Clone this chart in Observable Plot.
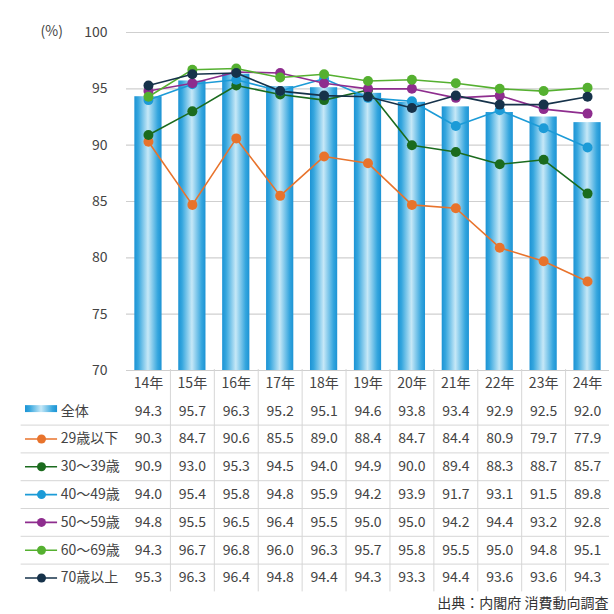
<!DOCTYPE html>
<html><head><meta charset="utf-8">
<script src="https://cdn.jsdelivr.net/npm/d3@7"></script>
<script src="https://cdn.jsdelivr.net/npm/@observablehq/plot@0.6"></script>
<style>body{margin:0;background:#fff} #c svg{display:block;overflow:visible}</style>
</head><body><div id="c"></div>
<script>
const years = ["14年","15年","16年","17年","18年","19年","20年","21年","22年","23年","24年"];
const totalName = "全体";
const total = [94.3,95.7,96.3,95.2,95.1,94.6,93.8,93.4,92.9,92.5,92.0];
const age29 = [90.3,84.7,90.6,85.5,89.0,88.4,84.7,84.4,80.9,79.7,77.9];
const age30 = [90.9,93.0,95.3,94.5,94.0,94.9,90.0,89.4,88.3,88.7,85.7];
const age40 = [94.0,95.4,95.8,94.8,95.9,94.2,93.9,91.7,93.1,91.5,89.8];
const age50 = [94.8,95.5,96.5,96.4,95.5,95.0,95.0,94.2,94.4,93.2,92.8];
const age60 = [94.3,96.7,96.8,96.0,96.3,95.7,95.8,95.5,95.0,94.8,95.1];
const age70 = [95.3,96.3,96.4,94.8,94.4,94.3,93.3,94.4,93.6,93.6,94.3];
const seriesNames = ["29歳以下","30～39歳","40～49歳","50～59歳","60～69歳","70歳以上"];
const seriesValues = [age29, age30, age40, age50, age60, age70];
const seriesColors = ["#e8732c","#1b6b1e","#1c9bd7","#8e2d8e","#55b030","#16324a"];
const yTicks = [70,75,80,85,90,95,100];
const unitLabel = "(%)";
const sourceText = "出典：内閣府 消費動向調査";

const font = "'Noto Sans CJK JP', 'Noto Sans', sans-serif";
const lineData = seriesNames.flatMap((name, s) => years.map((yr, i) => ({name, year: yr, value: seriesValues[s][i]})));
const barData = years.map((yr, i) => ({year: yr, value: total[i]}));

function addGradient(svg) {
  const defs = d3.select(svg).insert("defs", ":first-child");
  const g = defs.append("linearGradient").attr("id", "barGrad")
    .attr("x1", "0").attr("x2", "1").attr("y1", "0").attr("y2", "0");
  [[0, "#1c93d4"], [0.14, "#35a6de"], [0.5, "#c6e8f7"], [0.86, "#35a6de"], [1, "#1c93d4"]]
    .forEach(([o, c]) => g.append("stop").attr("offset", o).attr("stop-color", c));
}

const style = {fontFamily: font, fontSize: "14px", color: "#444", background: "transparent", overflow: "visible"};

const chart = Plot.plot({
  width: 614, height: 372, marginTop: 32, marginBottom: 2, marginLeft: 126, marginRight: 5,
  style,
  x: {type: "band", domain: years, paddingInner: 0.38, paddingOuter: 0.19, round: false, axis: null},
  y: {domain: [70, 100], axis: null},
  color: {domain: seriesNames, range: seriesColors},
  marks: [
    Plot.gridY(yTicks, {stroke: "#cfcfcf", strokeOpacity: 1, strokeWidth: 1.2}),
    Plot.axisY(yTicks, {tickSize: 0, tickPadding: 19, fontSize: 14, fill: "#444", label: null}),
    Plot.text([unitLabel], {frameAnchor: "top-left", dx: -86, dy: -6, fontSize: 14, fill: "#444"}),
    Plot.barY(barData, {x: "year", y1: 70, y2: "value", fill: "url(#barGrad)"}),
    Plot.ruleY([70], {stroke: "#cfcfcf", strokeWidth: 1.2}),
    Plot.line(lineData, {x: "year", y: "value", z: "name", stroke: "name", strokeWidth: 1.6}),
    Plot.dot(lineData, {x: "year", y: "value", fill: "name", r: 5})
  ]
});
addGradient(chart);

const rowValues = [total, ...seriesValues];
const headerCells = years.map((yr, i) => ({col: i + 0.5, row: 0.5, text: yr}));
const valueCells = rowValues.flatMap((vals, r) => vals.map((v, i) => ({col: i + 0.5, row: r + 1.5, text: v.toFixed(1)})));

const table = Plot.plot({
  width: 614, height: 242, marginTop: 0, marginBottom: 7, marginLeft: 126, marginRight: 6,
  style,
  x: {type: "linear", domain: [0, 11], range: [126, 609], axis: null},
  y: {type: "linear", domain: [0, 8], range: [-3, 219.4], axis: null},
  color: {domain: seriesNames, range: seriesColors},
  marks: [
    Plot.ruleX(d3.range(1, 11), {y1: 0, y2: 8, stroke: "#d6d6d6"}),
    Plot.ruleY(d3.range(2, 8), {x1: -2.4, x2: 11, stroke: "#d6d6d6"}),
    Plot.text([...headerCells, ...valueCells], {x: "col", y: "row", text: "text", fontSize: 14, fill: "#444"}),
    Plot.text([totalName, ...seriesNames], {x: -1.5, y: (d, i) => i + 1.5, text: d => d, textAnchor: "start", fontSize: 14, fill: "#444"}),
    Plot.rect([totalName], {x1: -2.3, x2: -1.57, y1: 1.3, y2: 1.55, fill: "url(#barGrad)"}),
    Plot.ruleY(seriesNames, {y: (d, i) => i + 2.5, x1: -2.3, x2: -1.57, stroke: d => d, strokeWidth: 1.6}),
    Plot.dot(seriesNames, {x: -1.936, y: (d, i) => i + 2.5, fill: d => d, r: 4.5}),
    Plot.text([sourceText], {frameAnchor: "bottom-right", fontSize: 14, fill: "#333"})
  ]
});

const c = document.getElementById("c");
c.appendChild(chart);
c.appendChild(table);
</script>
</body></html>
